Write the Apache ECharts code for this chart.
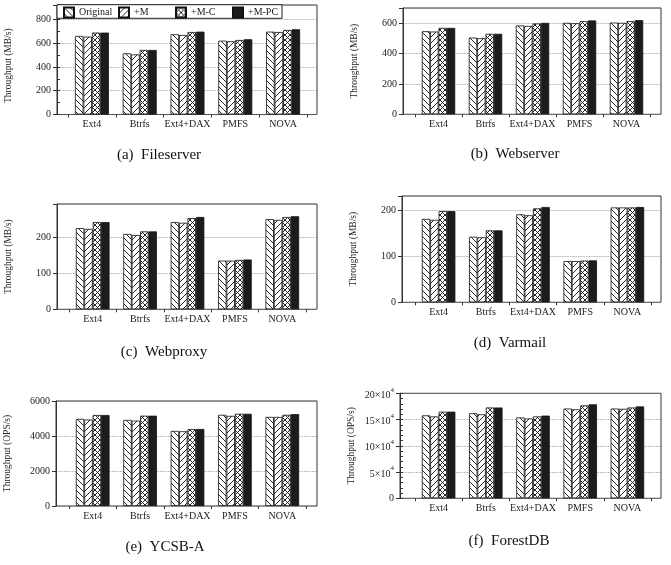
<!DOCTYPE html>
<html>
<head>
<meta charset="utf-8">
<script src="https://cdn.jsdelivr.net/npm/echarts@6/dist/echarts.min.js"></script>
<style>
  html, body { margin: 0; padding: 0; background: #fff; }
  #chart { width: 671px; height: 565px; }
</style>
</head>
<body>
<div id="chart"></div>
<script>
var categories = ['Ext4', 'Btrfs', 'Ext4+DAX', 'PMFS', 'NOVA'];
var seriesNames = ['Original', '+M', '+M-C', '+M-PC'];

// (a) Fileserver, MB/s
var fileOriginal = [660, 514, 674, 620, 696];
var fileM = [654, 505, 668, 615, 693];
var fileMC = [688, 542, 693, 626, 710];
var fileMPC = [688, 542, 696, 632, 716];

// (b) Webserver, MB/s
var webOriginal = [547, 505, 585, 602, 604];
var webM = [545, 501, 582, 600, 602];
var webMC = [569, 530, 598, 613, 613];
var webMPC = [569, 530, 602, 618, 620];

// (c) Webproxy, MB/s
var proxyOriginal = [225, 209, 242, 135, 250];
var proxyM = [223, 206, 240, 135, 248];
var proxyMC = [242, 216, 253, 137, 256];
var proxyMPC = [242, 216, 256, 138, 258];

// (d) Varmail, MB/s
var mailOriginal = [182, 143, 192, 90, 207];
var mailM = [180, 142, 190, 90, 207];
var mailMC = [199, 157, 205, 91, 207];
var mailMPC = [199, 157, 208, 91.5, 208];

// (e) YCSB-A, OPS/s
var ycsbOriginal = [4980, 4920, 4290, 5210, 5090];
var ycsbM = [4940, 4880, 4270, 5150, 5090];
var ycsbMC = [5200, 5160, 4390, 5270, 5210];
var ycsbMPC = [5200, 5160, 4400, 5270, 5250];

// (f) ForestDB, OPS/s
var forestOriginal = [158000, 162000, 154000, 171000, 171000];
var forestM = [156000, 160000, 152000, 169500, 170500];
var forestMC = [165000, 173000, 156000, 177000, 173000];
var forestMPC = [165000, 173000, 157500, 179000, 175000];

// layout of the six panels (pixels)
var panels = [
  { data: [fileOriginal, fileM, fileMC, fileMPC], box: [57, 5, 317, 114.5], inner: [68, 307],
    max: 920, interval: 200, minor: 100, unit: 'MB/s', caption: '(a)  Fileserver', cap: [159, 155], namePad: [0, 12, 0, 0] },
  { data: [webOriginal, webM, webMC, webMPC], box: [403, 8, 661, 114.3], inner: [415, 650],
    max: 700, interval: 200, minor: null, unit: 'MB/s', caption: '(b)  Webserver', cap: [515, 154] },
  { data: [proxyOriginal, proxyM, proxyMC, proxyMPC], box: [57, 204, 317, 309.3], inner: [69, 306],
    max: 292, interval: 100, minor: null, unit: 'MB/s', caption: '(c)  Webproxy', cap: [164, 352] },
  { data: [mailOriginal, mailM, mailMC, mailMPC], box: [402, 196, 661, 302.3], inner: [415, 651],
    max: 232, interval: 100, minor: null, unit: 'MB/s', caption: '(d)  Varmail', cap: [510, 343] },
  { data: [ycsbOriginal, ycsbM, ycsbMC, ycsbMPC], box: [56, 401, 317, 506], inner: [69, 306],
    max: 6000, interval: 2000, minor: null, unit: 'OPS/s', caption: '(e)  YCSB-A', cap: [165, 547] },
  { data: [forestOriginal, forestM, forestMC, forestMPC], box: [400, 393.3, 661, 498.3], inner: [415, 651],
    max: 200000, interval: 50000, minor: 10000, unit: 'OPS/s', caption: '(f)  ForestDB', cap: [509, 541], sci: true }
];

// legend item positions (icon left edges) and its frame
var legendLefts = [63, 118, 175, 232];
var legendFrame = [57, 4.7, 225, 13.6];

var FONT = '"Liberation Serif", "Times New Roman", serif';

// hatch fills drawn on a small canvas tile
function hatch(kind, size) {
  var c = document.createElement('canvas');
  c.width = c.height = size;
  var ctx = c.getContext('2d');
  ctx.fillStyle = '#fff';
  ctx.fillRect(0, 0, size, size);
  ctx.strokeStyle = '#111';
  ctx.lineWidth = 0.9;
  function diag(down) {
    ctx.beginPath();
    for (var k = -1; k <= 1; k++) {
      if (down) { ctx.moveTo(k * size, 0); ctx.lineTo(k * size + size, size); }
      else { ctx.moveTo(k * size, size); ctx.lineTo(k * size + size, 0); }
    }
    ctx.stroke();
  }
  if (kind === 'back' || kind === 'cross') diag(true);
  if (kind === 'fwd' || kind === 'cross') diag(false);
  return { image: c, repeat: 'repeat' };
}

var fills = [hatch('back', 6), hatch('fwd', 6), hatch('cross', 5), '#1c1c1c'];

var grids = [], xAxes = [], yAxes = [], series = [], graphics = [];

panels.forEach(function (p, i) {
  var b = p.box;
  // frame grid: border, y labels, dotted grid lines
  grids.push({ left: b[0], top: b[1], width: b[2] - b[0], height: b[3] - b[1],
    show: true, borderColor: '#333', borderWidth: 1 });
  // inner grid: where the category bands sit
  grids.push({ left: p.inner[0], top: b[1], width: p.inner[1] - p.inner[0], height: b[3] - b[1] });

  xAxes.push({ type: 'value', gridIndex: 2 * i, min: 0, max: 1, show: false });
  xAxes.push({
    type: 'category', gridIndex: 2 * i + 1, data: categories,
    axisLine: { show: false },
    axisTick: { show: true, length: 3, lineStyle: { color: '#333', width: 1 } },
    axisLabel: { fontFamily: FONT, fontSize: 10, color: '#222', margin: 5, interval: 0 }
  });

  yAxes.push({
    type: 'value', gridIndex: 2 * i, position: 'left', min: 0, max: p.max, interval: p.interval,
    name: 'Throughput (' + p.unit + ')', nameLocation: 'middle', nameGap: 44,
    nameTextStyle: { fontFamily: FONT, fontSize: 9.5, color: '#222', padding: p.namePad || 0 },
    axisLine: { show: true, lineStyle: { color: '#333', width: 1 } },
    axisTick: { show: true, length: 4, lineStyle: { color: '#333' } },
    axisLabel: {
      fontFamily: FONT, fontSize: 10, color: '#222', margin: 6,
      formatter: function (v) {
        if (v % p.interval !== 0) return '';
        if (p.sci && v !== 0) return '{n|' + (v / 10000) + '×10}{s|4}';
        return String(v);
      },
      rich: {
        n: { fontFamily: FONT, fontSize: 10, color: '#222', lineHeight: 14, verticalAlign: 'bottom' },
        s: { fontFamily: FONT, fontSize: 7, color: '#222', lineHeight: 14, verticalAlign: 'top' }
      }
    },
    splitLine: { show: true, lineStyle: { color: '#888', type: 'dotted', width: 0.8 } }
  });
  yAxes.push({
    type: 'value', gridIndex: 2 * i, position: 'left', min: 0, max: p.max,
    interval: p.minor || p.interval, show: !!p.minor,
    axisLine: { show: false },
    axisTick: { show: true, inside: true, length: 3, lineStyle: { color: '#333' } },
    axisLabel: { show: false }, splitLine: { show: false }
  });
  yAxes.push({ type: 'value', gridIndex: 2 * i + 1, min: 0, max: p.max, show: false, splitLine: { show: false } });

  p.data.forEach(function (vals, k) {
    series.push({
      type: 'bar', name: seriesNames[k], data: vals,
      xAxisIndex: 2 * i + 1, yAxisIndex: 3 * i + 2,
      barGap: 0, barCategoryGap: '29%',
      itemStyle: { color: fills[k], borderColor: '#111', borderWidth: 0.8 },
      emphasis: { disabled: true }
    });
  });

  graphics.push({
    type: 'text', x: p.cap[0], y: p.cap[1],
    style: { text: p.caption, font: '15px ' + FONT, fill: '#111', align: 'center', verticalAlign: 'middle' }
  });
});

// white box behind the legend, drawn over the top frame line
graphics.push({
  type: 'rect', z: 5,
  shape: { x: legendFrame[0], y: legendFrame[1], width: legendFrame[2], height: legendFrame[3] },
  style: { fill: '#fff', stroke: '#222', lineWidth: 1 }
});

var legends = seriesNames.map(function (name, k) {
  return {
    data: [name], left: legendLefts[k], top: 6.5, z: 10,
    icon: 'rect', itemWidth: 10, itemHeight: 10, padding: 0,
    textStyle: { fontFamily: FONT, fontSize: 10, color: '#222' },
    selectedMode: false
  };
});

var chart = echarts.init(document.getElementById('chart'), null, { renderer: 'canvas' });
chart.setOption({
  animation: false,
  backgroundColor: '#fff',
  legend: legends,
  grid: grids,
  xAxis: xAxes,
  yAxis: yAxes,
  series: series,
  graphic: graphics
});
</script>
</body>
</html>
